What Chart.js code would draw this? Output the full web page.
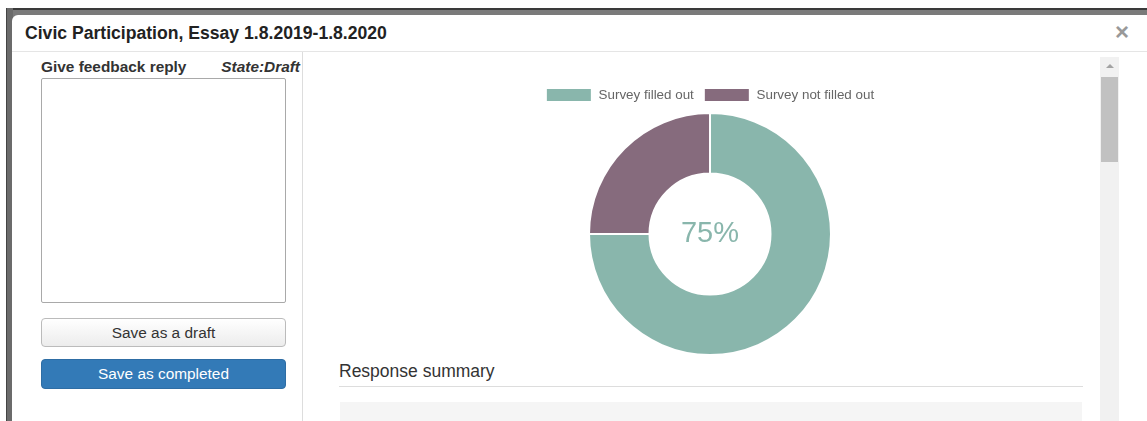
<!DOCTYPE html>
<html>
<head>
<meta charset="utf-8">
<script src="https://cdn.jsdelivr.net/npm/chart.js@4/dist/chart.umd.min.js"></script>
<style>
  html, body { margin: 0; padding: 0; background: #fff; font-family: "Liberation Sans", Arial, sans-serif; overflow: hidden; }
  body { width: 1147px; height: 421px; position: relative; }
  .frame-top { position: absolute; left: 6px; top: 8px; width: 1141px; height: 8px; background: #7a7a7a; border-top: 2px solid #3a3a3a; }
  .frame-left { position: absolute; left: 6px; top: 8px; width: 6px; height: 413px; background: #6b6b6b; border-left: 1px solid #444; }
  .dialog { position: absolute; left: 12px; top: 15px; width: 1160px; height: 420px; background: #fff; border-top-left-radius: 6px; }
  .header { position: absolute; left: 0; top: 0; width: 1160px; height: 36px; border-bottom: 1px solid #e5e5e5; }
  .title { position: absolute; left: 13px; top: 8px; font-size: 17.6px; font-weight: bold; color: #222; }
  .close { position: absolute; left: 1103px; top: 3px; font-size: 24px; font-weight: bold; color: #999; }
  .leftpane { position: absolute; left: 0; top: 37px; width: 290px; height: 400px; border-right: 1px solid #ddd; }
  .lbl { position: absolute; left: 29px; top: 6px; font-size: 15.4px; font-weight: bold; color: #333; }
  .state { position: absolute; right: 2px; top: 6px; font-size: 15.4px; font-weight: bold; font-style: italic; color: #333; }
  .ta { position: absolute; left: 29px; top: 26px; width: 243px; height: 223px; border: 1px solid #a9a9a9; border-radius: 2px; background: #fff; }
  .btn { position: absolute; left: 29px; width: 245px; height: 29px; border-radius: 4px; font-size: 15.4px; text-align: center; line-height: 27px; box-sizing: border-box; }
  .draft { top: 266px; background: linear-gradient(#fff, #ececec); border: 1px solid #bbb; color: #333; }
  .done { top: 307px; height: 30px; line-height: 28px; background: #337ab7; border: 1px solid #2e6da4; color: #fff; }
  .chartbox { position: absolute; left: 330px; top: 75px; width: 760px; height: 281px; }
  .summary { position: absolute; left: 339px; top: 361px; font-size: 17.5px; color: #333; }
  .rule { position: absolute; left: 339px; top: 386px; width: 744px; height: 1px; background: #ddd; }
  .graybox { position: absolute; left: 340px; top: 402px; width: 742px; height: 30px; background: #f5f5f5; }
  .track { position: absolute; left: 1100px; top: 57px; width: 19px; height: 370px; background: #f1f1f1; }
  .thumb { position: absolute; left: 1101px; top: 77px; width: 17px; height: 85px; background: #c1c1c1; }
  .arrow { position: absolute; left: 1106px; top: 64px; width: 0; height: 0; border-left: 4px solid transparent; border-right: 4px solid transparent; border-bottom: 4px solid #a3a3a3; }
</style>
</head>
<body>
<div class="frame-top"></div>
<div class="frame-left"></div>
<div class="dialog">
  <div class="header">
    <div class="title">Civic Participation, Essay 1.8.2019-1.8.2020</div>
    <div class="close">×</div>
  </div>
  <div class="leftpane">
    <div class="lbl">Give feedback reply</div>
    <div class="state">State:Draft</div>
    <div class="ta"></div>
    <div class="btn draft">Save as a draft</div>
    <div class="btn done">Save as completed</div>
  </div>
</div>
<div class="chartbox"><canvas id="donut"></canvas></div>
<div class="summary">Response summary</div>
<div class="rule"></div>
<div class="graybox"></div>
<div class="track"></div>
<div class="thumb"></div>
<div class="arrow"></div>
<script>
const labels = ["Survey filled out", "Survey not filled out"];
const values = [75, 25];
const colors = ["#89b6ac", "#866b7d"];

// draws the share of the first slice in the hole
const centerText = {
  id: "centerText",
  afterDraw(chart) {
    const meta = chart.getDatasetMeta(0);
    const arc = meta.data[0];
    if (!arc) return;
    const total = values.reduce((a, b) => a + b, 0);
    const pct = Math.round(values[0] / total * 100) + "%";
    const ctx = chart.ctx;
    ctx.save();
    ctx.font = "29px 'Liberation Sans', Arial, sans-serif";
    ctx.fillStyle = colors[0];
    ctx.textAlign = "center";
    ctx.textBaseline = "middle";
    ctx.fillText(pct, arc.x, arc.y);
    ctx.restore();
  },
};

new Chart(document.getElementById("donut"), {
  type: "doughnut",
  data: {
    labels: labels,
    datasets: [
      {
        data: values,
        backgroundColor: colors,
        borderColor: "#fff",
        borderWidth: 2,
      },
    ],
  },
  options: {
    responsive: true,
    maintainAspectRatio: false,
    animation: false,
    cutout: "50%",
    layout: { padding: { top: 3, bottom: 0 } },
    plugins: {
      legend: {
        position: "top",
        labels: {
          boxWidth: 46,
          boxHeight: 14,
          color: "#666",
          padding: 10,
          font: { size: 13.4, family: "'Liberation Sans', Arial, sans-serif" },
        },
      },
      tooltip: { enabled: false },
    },
  },
  plugins: [centerText],
});
</script>
</body>
</html>
